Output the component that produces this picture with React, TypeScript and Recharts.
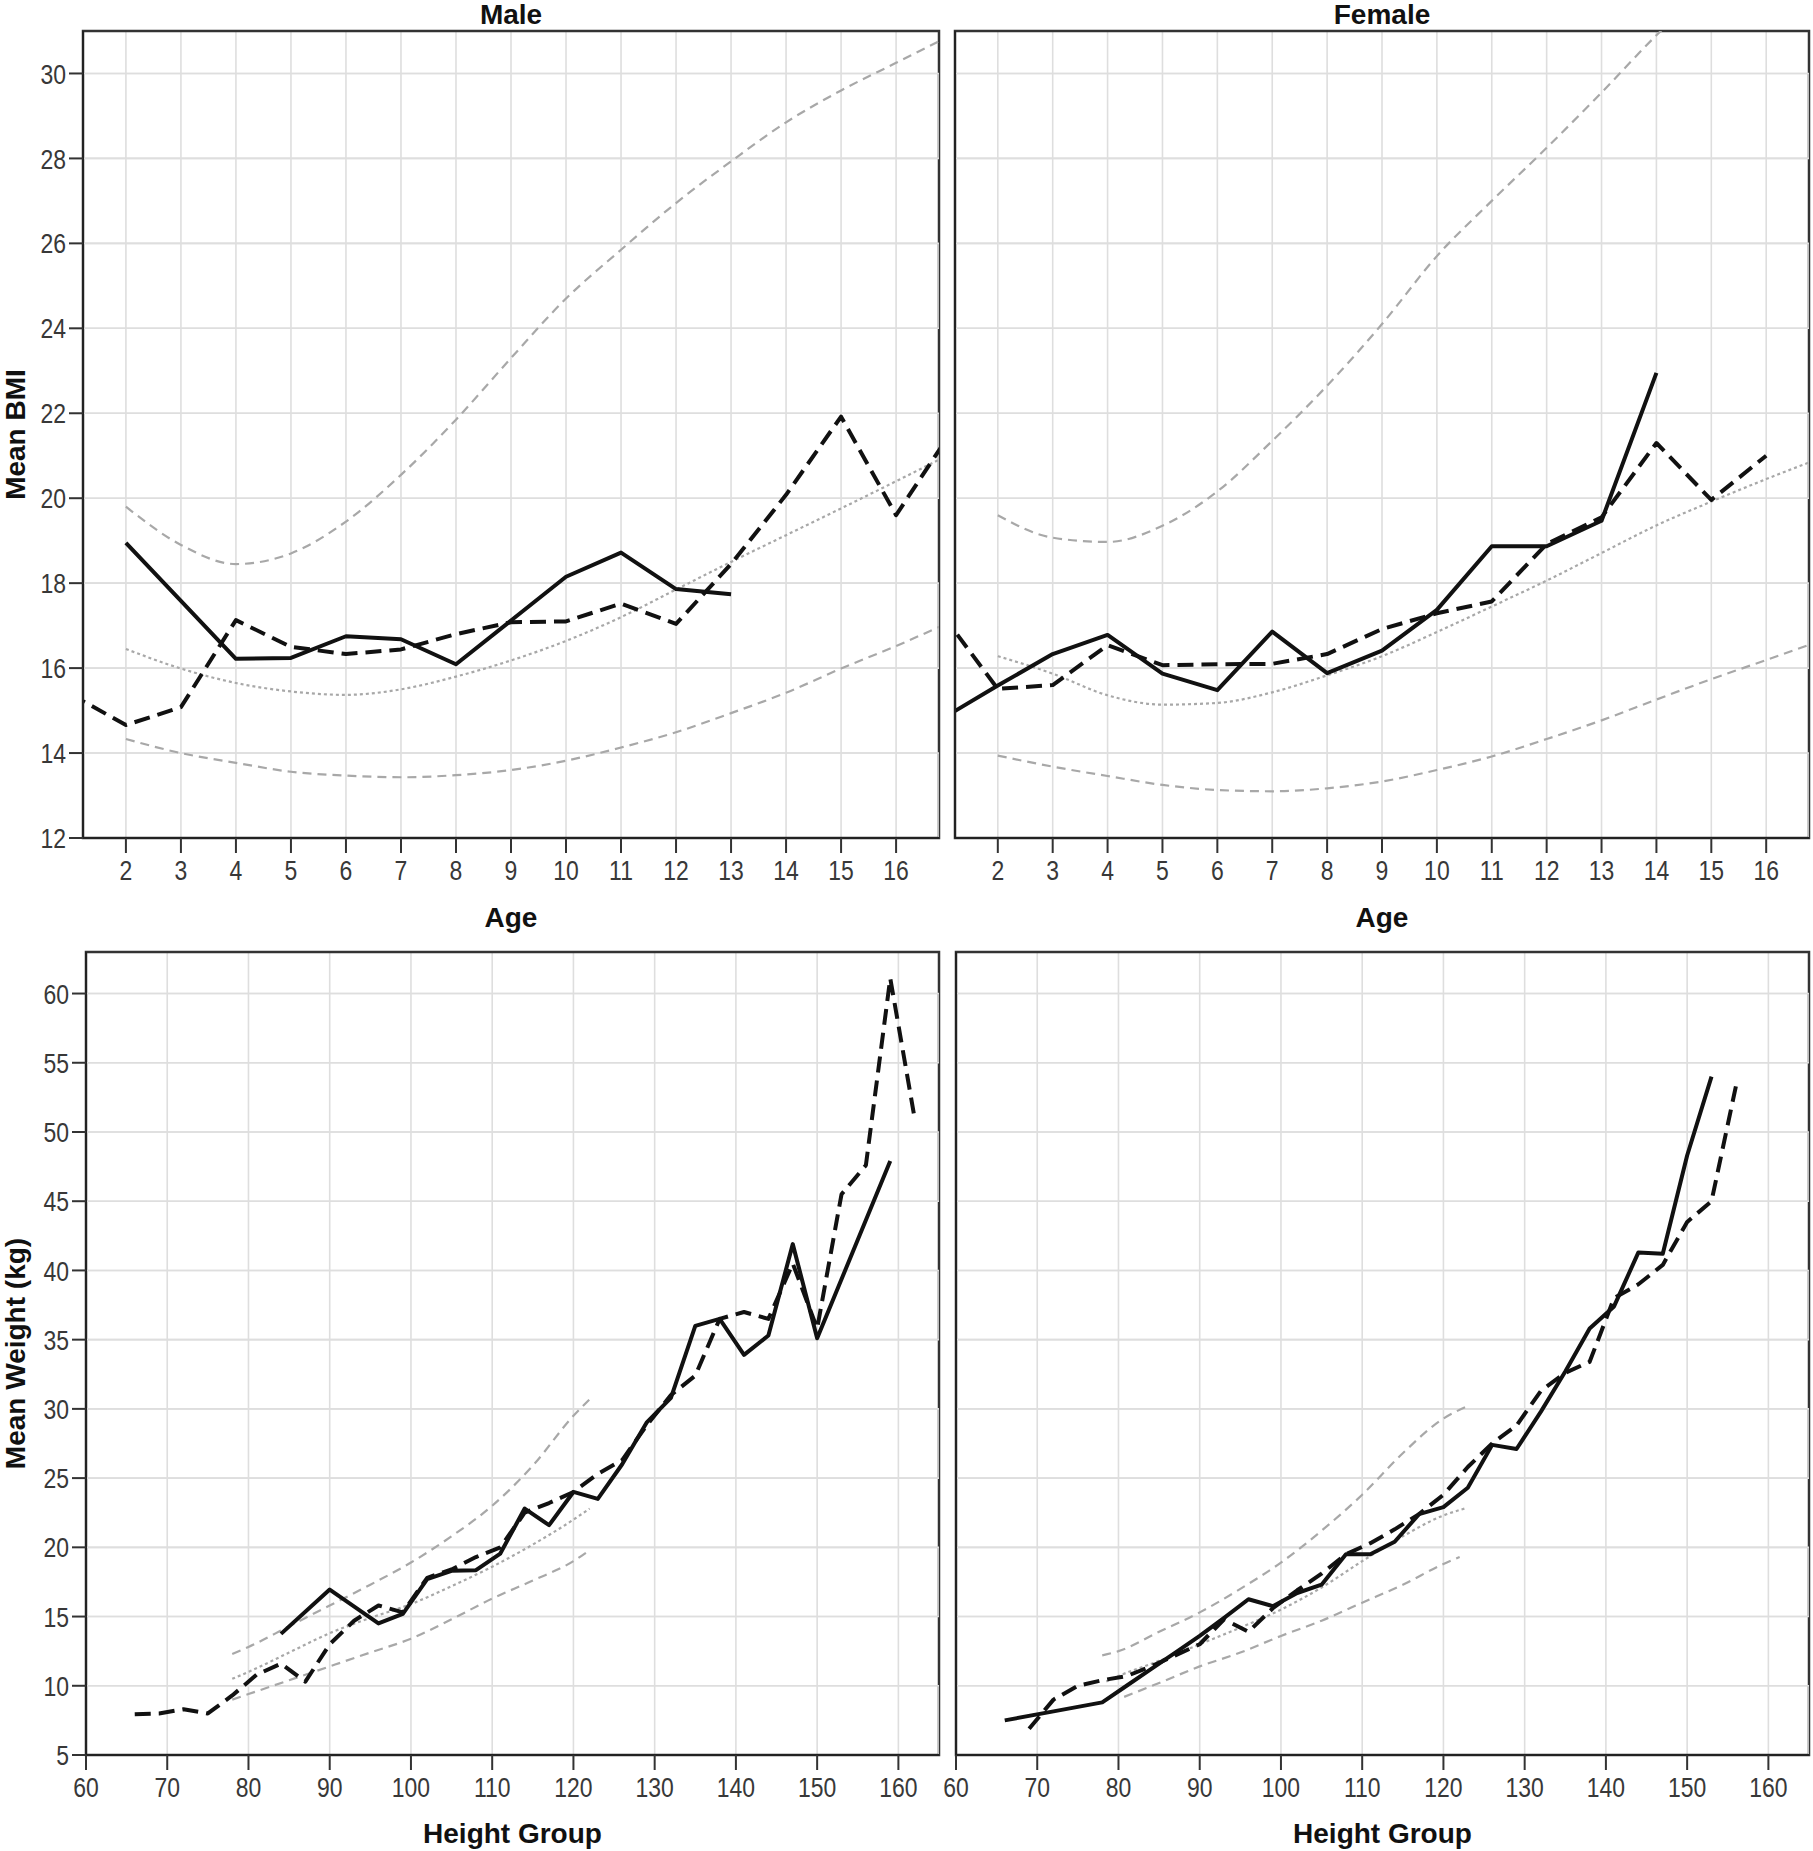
import React from 'react';
import { LineChart, Line, XAxis, YAxis, CartesianGrid, ReferenceArea } from 'recharts';

// ---------- ticks ----------
const ageTicks = [2, 3, 4, 5, 6, 7, 8, 9, 10, 11, 12, 13, 14, 15, 16];
const bmiTicks = [12, 14, 16, 18, 20, 22, 24, 26, 28, 30];
const heightTicks = [60, 70, 80, 90, 100, 110, 120, 130, 140, 150, 160];
const weightTicks = [5, 10, 15, 20, 25, 30, 35, 40, 45, 50, 55, 60];

// ---------- Male BMI by age ----------
const maleObsAges = [2, 3, 4, 5, 6, 7, 8, 9, 10, 11, 12, 13];
const maleObsBmi = [18.95, 17.58, 16.22, 16.24, 16.75, 16.68, 16.09, 17.12, 18.15, 18.72, 17.86, 17.74];
const maleCmpAges = [1, 2, 3, 4, 5, 6, 7, 8, 9, 10, 11, 12, 13, 14, 15, 16, 17];
const maleCmpBmi = [15.38, 14.66, 15.08, 17.13, 16.5, 16.33, 16.44, 16.8, 17.08, 17.1, 17.52, 17.04, 18.45, 20.08, 21.92, 19.6, 21.56];
const refAges = [2, 3, 4, 5, 6, 7, 8, 9, 10, 11, 12, 13, 14, 15, 16, 17];
const maleBmiUpper = [19.8, 18.9, 18.45, 18.7, 19.45, 20.55, 21.85, 23.3, 24.7, 25.85, 26.95, 27.93, 28.85, 29.6, 30.25, 30.9];
const maleBmiMedian = [16.45, 15.99, 15.65, 15.45, 15.37, 15.5, 15.8, 16.18, 16.64, 17.2, 17.85, 18.5, 19.13, 19.76, 20.4, 21.05];
const maleBmiLower = [14.33, 14.0, 13.77, 13.56, 13.47, 13.43, 13.48, 13.6, 13.82, 14.13, 14.49, 14.94, 15.42, 15.99, 16.52, 17.1];

// ---------- Female BMI by age ----------
const femaleObsAges = [1, 2, 3, 4, 5, 6, 7, 8, 9, 10, 11, 12, 13, 14];
const femaleObsBmi = [14.82, 15.59, 16.33, 16.78, 15.87, 15.48, 16.86, 15.88, 16.41, 17.37, 18.87, 18.87, 19.47, 22.95];
const femaleCmpAges = [1, 2, 3, 4, 5, 6, 7, 8, 9, 10, 11, 12, 13, 14, 15, 16];
const femaleCmpBmi = [17.24, 15.51, 15.6, 16.54, 16.07, 16.09, 16.1, 16.33, 16.92, 17.29, 17.57, 18.92, 19.55, 21.3, 19.96, 21.0];
const femaleUpperAges = [2, 3, 4, 5, 6, 7, 8, 9, 10, 11, 12, 13, 14, 15, 16];
const femaleBmiUpper = [19.6, 19.07, 18.97, 19.35, 20.16, 21.35, 22.65, 24.1, 25.7, 27.0, 28.25, 29.55, 30.9, 32.1, 33.2];
const femaleBmiMedian = [16.28, 15.87, 15.36, 15.14, 15.18, 15.43, 15.83, 16.28, 16.85, 17.45, 18.06, 18.71, 19.36, 19.92, 20.45, 20.95];
const femaleBmiLower = [13.94, 13.68, 13.46, 13.25, 13.13, 13.1, 13.17, 13.33, 13.6, 13.92, 14.33, 14.77, 15.26, 15.74, 16.19, 16.65];

// ---------- Male weight by height group ----------
const maleObsHeights = [84, 90, 96, 99, 102, 105, 108, 111, 114, 117, 120, 123, 126, 129, 132, 135, 138, 141, 144, 147, 150, 159];
const maleObsWeight = [13.75, 16.95, 14.5, 15.2, 17.7, 18.3, 18.35, 19.55, 22.8, 21.6, 24.0, 23.5, 26.0, 29.0, 30.8, 36.0, 36.5, 33.9, 35.3, 41.9, 35.1, 47.9];
const maleCmpHeights = [66, 69, 72, 75, 78, 81, 84, 87, 90, 93, 96, 99, 102, 105, 108, 111, 114, 117, 120, 123, 126, 129, 132, 135, 138, 141, 144, 147, 150, 153, 156, 159, 162];
const maleCmpWeight = [7.95, 8.0, 8.3, 8.0, 9.3, 10.8, 11.6, 10.3, 13.0, 14.7, 15.8, 15.3, 17.8, 18.4, 19.3, 20.0, 22.5, 23.2, 24.0, 25.3, 26.3, 28.8, 31.0, 32.4, 36.5, 37.0, 36.5, 40.5, 35.8, 45.5, 47.6, 61.1, 51.0];
const maleRefHeights = [78, 80, 85, 90, 95, 100, 105, 110, 115, 120, 122];
const maleWtUpper = [12.3, 12.8, 14.3, 15.8, 17.3, 18.9, 20.8, 23.0, 25.9, 29.5, 30.7];
const maleWtMedian = [10.5, 11.0, 12.4, 13.8, 14.9, 15.9, 17.2, 18.6, 20.2, 22.0, 22.8];
const maleWtLower = [9.0, 9.4, 10.4, 11.4, 12.4, 13.4, 14.8, 16.3, 17.6, 19.0, 19.8];

// ---------- Female weight by height group ----------
const femaleObsHeights = [66, 72, 78, 81, 84, 87, 90, 93, 96, 99, 102, 105, 108, 111, 114, 117, 120, 123, 126, 129, 132, 135, 138, 141, 144, 147, 150, 153];
const femaleObsWeight = [7.5, 8.15, 8.8, 10.0, 11.2, 12.4, 13.6, 14.9, 16.25, 15.75, 16.7, 17.3, 19.5, 19.5, 20.4, 22.4, 22.9, 24.3, 27.4, 27.1, 29.8, 32.7, 35.8, 37.4, 41.3, 41.2, 48.3, 54.0];
const femaleCmpHeights = [69, 72, 75, 78, 81, 84, 87, 90, 93, 96, 99, 102, 105, 108, 111, 114, 117, 120, 123, 126, 129, 132, 135, 138, 141, 144, 147, 150, 153, 156];
const femaleCmpWeight = [6.9, 9.0, 10.0, 10.4, 10.7, 11.4, 12.2, 13.0, 14.8, 13.9, 15.6, 16.9, 18.1, 19.5, 20.3, 21.3, 22.4, 23.8, 25.8, 27.5, 28.8, 31.3, 32.6, 33.4, 38.0, 39.0, 40.4, 43.5, 45.0, 53.3];
const femaleUpperHeights = [78, 80, 85, 90, 95, 100, 105, 110, 115, 120, 123];
const femaleWtUpper = [12.2, 12.5, 13.9, 15.3, 17.0, 18.9, 21.2, 23.8, 26.8, 29.3, 30.2];
const femaleMedianHeights = [78.5, 80, 85, 90, 95, 100, 105, 110, 115, 120, 122.6];
const femaleWtMedian = [10.3, 10.7, 11.8, 13.0, 14.2, 15.5, 17.1, 19.0, 20.8, 22.3, 22.8];
const femaleLowerHeights = [80.7, 85, 90, 95, 100, 105, 110, 115, 120, 122];
const femaleWtLower = [9.2, 10.2, 11.4, 12.4, 13.6, 14.7, 16.0, 17.3, 18.8, 19.3];

// ---------- helpers ----------
type Pt = { x: number; y: number };
const pairs = (xs: number[], ys: number[]): Pt[] => xs.map((x, i) => ({ x, y: ys[i] }));

const TICK_FONT = "'Liberation Sans', Arial, Helvetica, sans-serif";
const TITLE_FONT = "'Liberation Sans', Arial, Helvetica, sans-serif";
const GRID = '#dedede';

const STYLE = {
  obs: { stroke: '#111', strokeWidth: 4, dash: undefined as string | undefined, type: 'linear' },
  cmp: { stroke: '#111', strokeWidth: 4, dash: '16 8', type: 'linear' },
  ref: { stroke: '#a8a8a8', strokeWidth: 2.2, dash: '9 6', type: 'monotone' },
  med: { stroke: '#a8a8a8', strokeWidth: 2.2, dash: '3 3', type: 'monotone' },
};

type Series = { key: string; data: Pt[]; kind: keyof typeof STYLE };

const XTick = (props: any) => {
  const { x, y, payload } = props;
  return (
    <g transform={`translate(${x},${y})`}>
      <text transform="scale(0.82,1)" textAnchor="middle" dy="0.72em" fontSize={28} fontFamily={TICK_FONT} fill="#383838">
        {payload.value}
      </text>
    </g>
  );
};

const makeYTick = (visible: boolean) => (props: any) => {
  const { x, y, payload } = props;
  return (
    <g transform={`translate(${x},${y})`}>
      <text
        transform="scale(0.82,1)"
        textAnchor="end"
        dy="0.36em"
        fontSize={28}
        fontFamily={TICK_FONT}
        fill="#383838"
        fillOpacity={visible ? 1 : 0}
      >
        {visible ? payload.value : ''}
      </text>
    </g>
  );
};

type PanelProps = {
  id: string;
  pos: { left: number; top: number; width: number; height: number };
  plot: { left: number; top: number; right: number; bottom: number };
  xDomain: [number, number];
  yDomain: [number, number];
  xTicks: number[];
  yTicks: number[];
  showY: boolean;
  title?: string;
  xTitle: string;
  xTitleBaseline: number;
  yTitle?: string;
  series: Series[];
};

function Panel(p: PanelProps) {
  const { pos, plot } = p;
  const margin = { top: plot.top - pos.top, right: pos.left + pos.width - plot.right, left: 0, bottom: 0 };
  const yAxisWidth = plot.left - pos.left;
  const xAxisHeight = pos.top + pos.height - plot.bottom;
  const cx = (plot.left + plot.right) / 2 - pos.left;
  const cy = (plot.top + plot.bottom) / 2 - pos.top;
  const YTick = makeYTick(p.showY);

  const xLabel = () => (
    <text x={cx} y={p.xTitleBaseline - pos.top} textAnchor="middle" fontSize={28} fontWeight="bold" fontFamily={TITLE_FONT} fill="#111">
      {p.xTitle}
    </text>
  );
  const yLabel = () => (
    <text
      x={24.5 - pos.left}
      y={cy}
      transform={`rotate(-90, ${24.5 - pos.left}, ${cy})`}
      textAnchor="middle"
      fontSize={28}
      fontWeight="bold"
      fontFamily={TITLE_FONT}
      fill="#111"
    >
      {p.yTitle || ''}
    </text>
  );

  // horizontal grid as one zig-zag polyline through the y ticks (its ends sit under the frame)
  const gridPath: Pt[] = [];
  p.yTicks.forEach((t, i) => {
    const a = i % 2 === 0 ? p.xDomain[0] : p.xDomain[1];
    const b = i % 2 === 0 ? p.xDomain[1] : p.xDomain[0];
    gridPath.push({ x: a, y: t }, { x: b, y: t });
  });

  return (
    <div style={{ position: 'absolute', left: pos.left, top: pos.top, width: pos.width, height: pos.height }}>
      {p.title ? (
        <div
          style={{
            position: 'absolute',
            left: cx - 150,
            width: 300,
            top: -pos.top - 2,
            height: 34,
            textAlign: 'center',
            fontFamily: TITLE_FONT,
            fontWeight: 'bold',
            fontSize: 28,
            lineHeight: '34px',
            color: '#111',
          }}
        >
          {p.title}
        </div>
      ) : null}
      <LineChart id={p.id} width={pos.width} height={pos.height} margin={margin}>
        <CartesianGrid stroke={GRID} strokeWidth={1.6} />
        <XAxis
          type="number"
          dataKey="x"
          domain={p.xDomain}
          ticks={p.xTicks}
          interval={0}
          allowDataOverflow
          height={xAxisHeight}
          tickSize={15}
          tickMargin={7}
          tickLine={{ stroke: '#333', strokeWidth: 2 }}
          axisLine={{ stroke: '#222', strokeWidth: 2 }}
          tick={<XTick />}
          label={{ content: xLabel }}
        />
        <YAxis
          type="number"
          dataKey="y"
          domain={p.yDomain}
          ticks={p.yTicks}
          interval={0}
          allowDataOverflow
          width={yAxisWidth}
          tickSize={14}
          tickMargin={3}
          tickLine={{ stroke: p.showY ? '#333' : 'none', strokeWidth: 2 }}
          axisLine={{ stroke: '#222', strokeWidth: 2 }}
          tick={<YTick />}
          label={{ content: yLabel }}
        />
        <Line
          data={gridPath}
          dataKey="y"
          type="linear"
          stroke={GRID}
          strokeWidth={1.6}
          dot={false}
          activeDot={false}
          legendType="none"
          isAnimationActive={false}
        />
        {p.series.map((s) => {
          const st = STYLE[s.kind];
          return (
            <Line
              key={s.key}
              data={s.data}
              dataKey="y"
              type={st.type as any}
              stroke={st.stroke}
              strokeWidth={st.strokeWidth}
              strokeDasharray={st.dash}
              strokeLinejoin="round"
              dot={false}
              activeDot={false}
              legendType="none"
              isAnimationActive={false}
            />
          );
        })}
        <ReferenceArea
          x1={p.xDomain[0]}
          x2={p.xDomain[1]}
          y1={p.yDomain[0]}
          y2={p.yDomain[1]}
          fill="none"
          fillOpacity={0}
          stroke="#333"
          strokeWidth={2.5}
          ifOverflow="visible"
        />
      </LineChart>
    </div>
  );
}

export default function App() {
  const ageDomain: [number, number] = [1.22, 16.78];
  const bmiDomain: [number, number] = [12, 31];
  const hDomain: [number, number] = [60, 165];
  const wDomain: [number, number] = [5, 63];

  return (
    <div style={{ position: 'absolute', left: 0, top: 0, width: 1813, height: 1851, background: '#fff', overflow: 'hidden' }}>
      <Panel
        id="bmi-male"
        pos={{ left: 0, top: 0, width: 947, height: 945 }}
        plot={{ left: 83, top: 31, right: 939, bottom: 838 }}
        xDomain={ageDomain}
        yDomain={bmiDomain}
        xTicks={ageTicks}
        yTicks={bmiTicks}
        showY
        title="Male"
        xTitle="Age"
        xTitleBaseline={927}
        yTitle="Mean BMI"
        series={[
          { key: 'u', data: pairs(refAges, maleBmiUpper), kind: 'ref' },
          { key: 'm', data: pairs(refAges, maleBmiMedian), kind: 'med' },
          { key: 'l', data: pairs(refAges, maleBmiLower), kind: 'ref' },
          { key: 'c', data: pairs(maleCmpAges, maleCmpBmi), kind: 'cmp' },
          { key: 'o', data: pairs(maleObsAges, maleObsBmi), kind: 'obs' },
        ]}
      />
      <Panel
        id="bmi-female"
        pos={{ left: 872, top: 0, width: 941, height: 945 }}
        plot={{ left: 955, top: 31, right: 1809, bottom: 838 }}
        xDomain={ageDomain}
        yDomain={bmiDomain}
        xTicks={ageTicks}
        yTicks={bmiTicks}
        showY={false}
        title="Female"
        xTitle="Age"
        xTitleBaseline={927}
        series={[
          { key: 'u', data: pairs(femaleUpperAges, femaleBmiUpper), kind: 'ref' },
          { key: 'm', data: pairs(refAges, femaleBmiMedian), kind: 'med' },
          { key: 'l', data: pairs(refAges, femaleBmiLower), kind: 'ref' },
          { key: 'c', data: pairs(femaleCmpAges, femaleCmpBmi), kind: 'cmp' },
          { key: 'o', data: pairs(femaleObsAges, femaleObsBmi), kind: 'obs' },
        ]}
      />
      <Panel
        id="wt-male"
        pos={{ left: 0, top: 945, width: 947, height: 906 }}
        plot={{ left: 86, top: 952, right: 939, bottom: 1755 }}
        xDomain={hDomain}
        yDomain={wDomain}
        xTicks={heightTicks}
        yTicks={weightTicks}
        showY
        xTitle="Height Group"
        xTitleBaseline={1843}
        yTitle="Mean Weight (kg)"
        series={[
          { key: 'u', data: pairs(maleRefHeights, maleWtUpper), kind: 'ref' },
          { key: 'm', data: pairs(maleRefHeights, maleWtMedian), kind: 'med' },
          { key: 'l', data: pairs(maleRefHeights, maleWtLower), kind: 'ref' },
          { key: 'c', data: pairs(maleCmpHeights, maleCmpWeight), kind: 'cmp' },
          { key: 'o', data: pairs(maleObsHeights, maleObsWeight), kind: 'obs' },
        ]}
      />
      <Panel
        id="wt-female"
        pos={{ left: 872, top: 945, width: 941, height: 906 }}
        plot={{ left: 956, top: 952, right: 1809, bottom: 1755 }}
        xDomain={hDomain}
        yDomain={wDomain}
        xTicks={heightTicks}
        yTicks={weightTicks}
        showY={false}
        xTitle="Height Group"
        xTitleBaseline={1843}
        series={[
          { key: 'u', data: pairs(femaleUpperHeights, femaleWtUpper), kind: 'ref' },
          { key: 'm', data: pairs(femaleMedianHeights, femaleWtMedian), kind: 'med' },
          { key: 'l', data: pairs(femaleLowerHeights, femaleWtLower), kind: 'ref' },
          { key: 'c', data: pairs(femaleCmpHeights, femaleCmpWeight), kind: 'cmp' },
          { key: 'o', data: pairs(femaleObsHeights, femaleObsWeight), kind: 'obs' },
        ]}
      />
    </div>
  );
}
